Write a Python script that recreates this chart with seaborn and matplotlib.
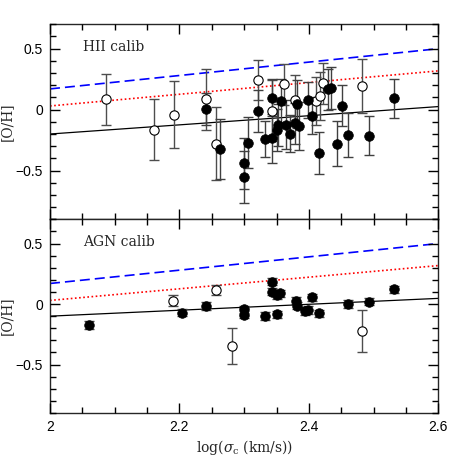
import numpy as np
import pandas as pd
import seaborn as sns
import matplotlib
matplotlib.use("Agg")
import matplotlib.pyplot as plt
from matplotlib.ticker import MultipleLocator

# ---- data ----
# HII calibration panel, filled points
hii_fill_x = [2.2407, 2.263, 2.299, 2.299, 2.3055, 2.321, 2.3323, 2.3427, 2.3427,
              2.3504, 2.353, 2.3566, 2.3643, 2.3715, 2.3787, 2.3813, 2.384, 2.399,
              2.4055, 2.4153, 2.4292, 2.4338, 2.443, 2.4508, 2.461, 2.493, 2.5317]
hii_fill_y = [0.003, -0.322, -0.44, -0.554, -0.27, -0.01, -0.24, -0.235, 0.098,
              -0.166, -0.125, 0.071, -0.125, -0.197, -0.112, 0.047, -0.134, 0.08,
              -0.049, -0.357, 0.167, 0.178, -0.281, 0.033, -0.207, -0.213, 0.093]
hii_fill_err = [0.13, 0.245, 0.21, 0.215, 0.21, 0.17, 0.15, 0.2, 0.15,
                0.17, 0.17, 0.18, 0.2, 0.15, 0.17, 0.2, 0.2, 0.15,
                0.15, 0.175, 0.17, 0.17, 0.185, 0.17, 0.18, 0.16, 0.16]
# HII calibration panel, open points
hii_open_x = [2.0866, 2.161, 2.191, 2.2407, 2.256, 2.321, 2.3427, 2.362, 2.3787,
              2.411, 2.4173, 2.4225, 2.4828]
hii_open_y = [0.085, -0.166, -0.041, 0.085, -0.281, 0.243, -0.01, 0.208, 0.08,
              0.071, 0.112, 0.216, 0.194]
hii_open_err = [0.21, 0.25, 0.275, 0.25, 0.3, 0.165, 0.25, 0.17, 0.2,
                0.2, 0.2, 0.17, 0.22]

# AGN calibration panel, filled points
agn_fill_x = [2.0607, 2.2045, 2.2407, 2.299, 2.299, 2.3328, 2.3427, 2.3427, 2.350,
              2.3555, 2.350, 2.380, 2.381, 2.3946, 2.399, 2.405, 2.415, 2.461,
              2.4935, 2.5317]
agn_fill_y = [-0.173, -0.072, -0.016, -0.044, -0.088, -0.099, 0.184, 0.101, 0.074,
              0.088, -0.085, 0.027, -0.014, -0.058, -0.049, 0.055, -0.077, 0.0,
              0.019, 0.121]
agn_fill_err = [0.03] * len(agn_fill_x)
# AGN calibration panel, open points
agn_open_x = [2.1906, 2.256, 2.2813, 2.4828]
agn_open_y = [0.027, 0.115, -0.346, -0.223]
agn_open_err = [0.045, 0.04, 0.15, 0.175]

# reference relations (end points)
line_x = [2.0, 2.6]
blue_y = [0.17, 0.50]
red_y = [0.03, 0.318]
black_hii_y = [-0.20, 0.025]
black_agn_y = [-0.10, 0.047]

sns.set_style("ticks")
plt.rcParams.update({
    "font.family": "Liberation Sans",
    "mathtext.fontset": "dejavuserif",
    "axes.linewidth": 1.0,
    "axes.axisbelow": False,
    "xtick.direction": "in", "ytick.direction": "in",
    "xtick.top": True, "ytick.right": True,
    "xtick.color": "black", "ytick.color": "black",
    "xtick.major.size": 7, "ytick.major.size": 7,
    "xtick.minor.size": 4, "ytick.minor.size": 4,
    "xtick.major.width": 1.0, "ytick.major.width": 1.0,
    "xtick.minor.width": 1.0, "ytick.minor.width": 1.0,
    "xtick.minor.visible": True, "ytick.minor.visible": True,
})

fig = plt.figure(figsize=(4.63, 4.63), dpi=100)
ax1 = fig.add_axes([0.108, 0.5263, 0.8387, 0.4212])
ax2 = fig.add_axes([0.108, 0.108, 0.8387, 0.4183])

panels = [
    (ax1, "HII calib", hii_fill_x, hii_fill_y, hii_fill_err,
     hii_open_x, hii_open_y, hii_open_err, black_hii_y),
    (ax2, "AGN calib", agn_fill_x, agn_fill_y, agn_fill_err,
     agn_open_x, agn_open_y, agn_open_err, black_agn_y),
]

for ax, label, fx, fy, fe, ox, oy, oe, black_y in panels:
    lines = pd.DataFrame({"x": line_x, "blue": blue_y, "red": red_y, "black": black_y})
    sns.lineplot(data=lines, x="x", y="blue", ax=ax, color="blue", lw=1.2,
                 linestyle=(0, (6, 3)))
    sns.lineplot(data=lines, x="x", y="red", ax=ax, color="red", lw=1.2,
                 linestyle=(0, (1, 1.5)))
    sns.lineplot(data=lines, x="x", y="black", ax=ax, color="black", lw=0.9)

    ax.errorbar(ox, oy, yerr=oe, fmt="none", ecolor="0.3", elinewidth=1.0,
                capsize=3.5, capthick=1.0, zorder=2)
    ax.errorbar(fx, fy, yerr=fe, fmt="none", ecolor="0.25", elinewidth=1.0,
                capsize=3.5, capthick=1.0, zorder=2)
    sns.scatterplot(x=ox, y=oy, ax=ax, s=45, facecolor="white", edgecolor="black",
                    linewidth=0.8, zorder=3)
    sns.scatterplot(x=fx, y=fy, ax=ax, s=48, color="black", edgecolor="black",
                    linewidth=0.5, zorder=4)

    ax.set_xlim(2.0, 2.6)
    ax.set_ylim(-0.9, 0.7)
    ax.set_yticks([-0.5, 0, 0.5])
    ax.set_yticklabels(["\u22120.5", "0", "0.5"])
    ax.xaxis.set_minor_locator(MultipleLocator(0.05))
    ax.yaxis.set_minor_locator(MultipleLocator(0.1))
    ax.tick_params(which="major", labelsize=10, pad=5)
    ax.set_ylabel("[O/H]", family="DejaVu Serif", fontsize=10, labelpad=1)
    ax.text(0.085, 0.92, label, transform=ax.transAxes, family="DejaVu Serif",
            fontsize=10, va="top", ha="left")

ax1.set_xticks([2.0, 2.2, 2.4, 2.6])
ax1.set_xlabel("")
ax1.tick_params(labelbottom=False)
ax2.set_xticks([2.0, 2.2, 2.4, 2.6])
ax2.set_xticklabels(["2", "2.2", "2.4", "2.6"])
ax2.set_xlabel(r"log($\sigma_{\rm c}$ (km/s))", family="DejaVu Serif", fontsize=10,
               labelpad=3)

fig.savefig("out.png", dpi=100)
